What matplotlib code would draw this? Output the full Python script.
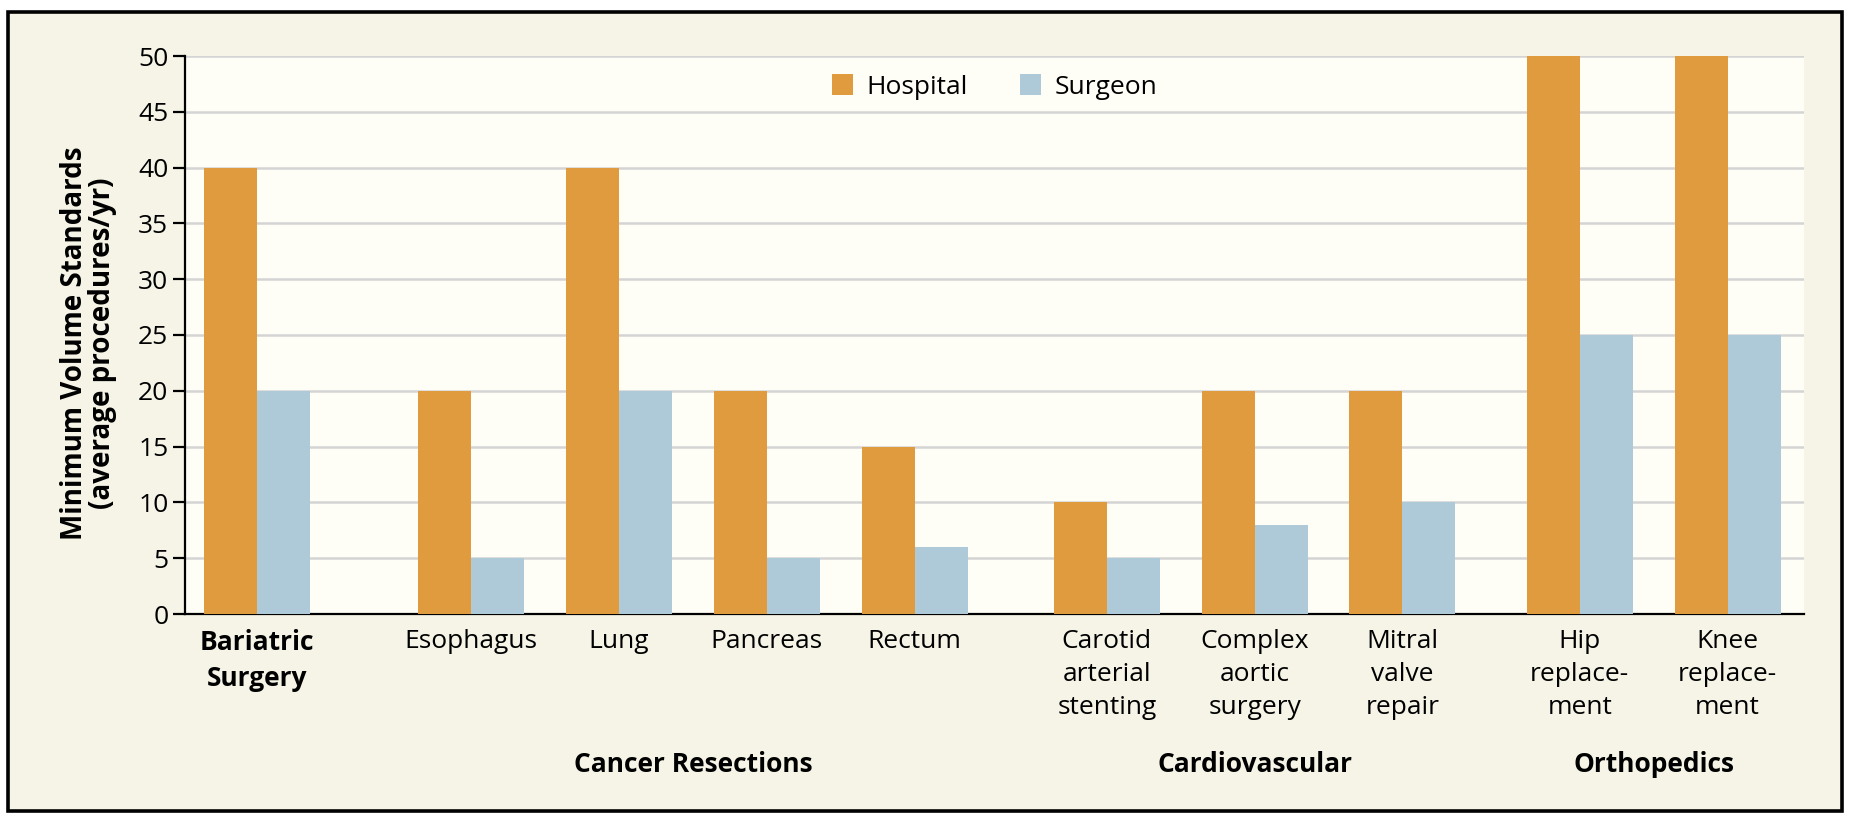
import numpy as np
import matplotlib
matplotlib.use("Agg")
import matplotlib.pyplot as plt
from matplotlib.patches import Rectangle
from matplotlib.transforms import blended_transform_factory

plt.rcParams['font.family'] = ['Open Sans', 'DejaVu Sans']
plt.rcParams['font.size'] = 19

# data
procedures = ["Bariatric\nSurgery", "Esophagus", "Lung", "Pancreas", "Rectum",
              "Carotid\narterial\nstenting", "Complex\naortic\nsurgery", "Mitral\nvalve\nrepair",
              "Hip\nreplace-\nment", "Knee\nreplace-\nment"]
positions = [0, 1.45, 2.45, 3.45, 4.45, 5.75, 6.75, 7.75, 8.95, 9.95]
hospital = [40, 20, 40, 20, 15, 10, 20, 20, 50, 50]
surgeon = [20, 5, 20, 5, 6, 5, 8, 10, 25, 25]
groups = ["Cancer Resections", "Cardiovascular", "Orthopedics"]
group_members = [[1, 2, 3, 4], [6], [8, 9]]

ORANGE = "#e09b3e"
BLUE = "#aec9d8"
CREAM = "#f5f4e6"
PANEL = "#fefef6"
FS = 19

fig = plt.figure(figsize=(18.54, 8.24), dpi=100)
fig.patch.set_facecolor("white")

# outer frame
frame = Rectangle((8 / 1854, 1 - 811 / 824), 1834 / 1854, 799 / 824,
                  transform=fig.transFigure, facecolor=CREAM,
                  edgecolor="black", lw=2.6, zorder=0)
fig.add_artist(frame)

ax = fig.add_axes([185 / 1854, 1 - 614 / 824, (1804 - 185) / 1854, (614 - 56) / 824])
ax.set_zorder(2)
ax.set_facecolor(PANEL)

x = np.array(positions)
w = 0.359
ax.bar(x - w / 2, hospital, width=w, color=ORANGE, label="Hospital", zorder=3)
ax.bar(x + w / 2, surgeon, width=w, color=BLUE, label="Surgeon", zorder=3)

ax.set_xlim(-0.487, 10.467)
ax.set_ylim(0, 50)
ax.set_yticks(np.arange(0, 51, 5))
ax.yaxis.grid(True, color="#d4d4d4", lw=1.8, zorder=0)
ax.set_axisbelow(True)

for s in ["top", "right"]:
    ax.spines[s].set_visible(False)
ax.spines["left"].set_linewidth(1.6)
ax.spines["bottom"].set_linewidth(1.6)
ax.tick_params(axis="y", length=9, width=1.6, pad=3, labelsize=FS)
ax.tick_params(axis="x", length=0, pad=11, labelsize=FS)

ax.set_xticks(x)
ax.set_xticklabels(procedures, linespacing=1.42)
ax.get_xticklabels()[0].set_fontweight("bold")

ax.set_ylabel("Minimum Volume Standards\n(average procedures/yr)", fontweight="bold",
              fontsize=20, linespacing=0.95)
ax.yaxis.set_label_coords(-0.042, 0.485)

trans = blended_transform_factory(ax.transData, fig.transFigure)
for name, members in zip(groups, group_members):
    cx = np.mean([positions[i] for i in members])
    ax.text(cx, 1 - 764 / 824, name, transform=trans, ha="center", va="center",
            fontweight="bold", fontsize=FS)

ax.legend(loc="upper center", bbox_to_anchor=(0.5, 1.0), ncol=2, frameon=False,
          handlelength=0.8, handleheight=0.8, handletextpad=0.5, columnspacing=2.0,
          fontsize=FS, borderaxespad=0.3)

fig.savefig("out.png", dpi=100, facecolor=fig.get_facecolor())
